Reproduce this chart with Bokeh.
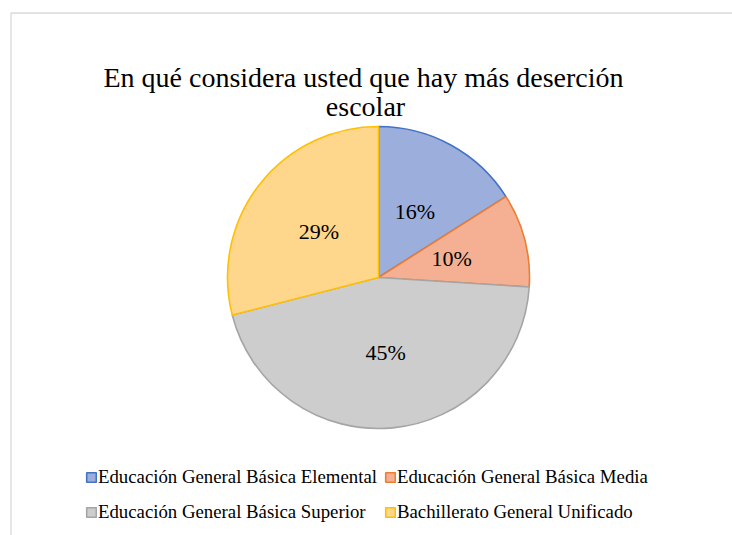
import math
from bokeh.plotting import figure
from bokeh.models import Range1d, Legend, LegendItem, ColumnDataSource
from bokeh.core.properties import value
from bokeh.embed import file_html
from bokeh.resources import INLINE

# ---- data ----
title_lines = ["En qué considera usted que hay más deserción", "escolar"]
categories = [
    "Educación General Básica Elemental",
    "Educación General Básica Media",
    "Educación General Básica Superior",
    "Bachillerato General Unificado",
]
percentages = [16, 10, 45, 29]
fill_colors = ["#9cafdc", "#f5b093", "#cdcdcd", "#fed68c"]
line_colors = ["#4472c4", "#ed7d31", "#a5a5a5", "#ffc000"]

FONT = "Liberation Serif"
W, H = 732, 535


def sy(y):
    # screenshot y (downwards) -> data y (upwards)
    return H - y


p = figure(width=W, height=H, x_range=Range1d(0, W), y_range=Range1d(0, H),
           toolbar_location=None, output_backend="svg", min_border=0,
           x_axis_location=None, y_axis_location=None)
p.grid.visible = False
p.outline_line_color = None
p.background_fill_color = "white"
p.border_fill_color = "white"

# chart-area border
p.quad(left=[10.5], right=[900], top=[sy(12.5)], bottom=[-100],
       fill_alpha=0, line_color="#d9d9d9", line_width=1.3)

# title
p.text(x=[363, 365], y=[sy(77), sy(106)], text=title_lines,
       text_font=value(FONT), text_font_size="28px", text_color="#000000",
       text_align="center", text_baseline="alphabetic")

# pie
cx, cy, R = 378, sy(277), 151
total = sum(percentages)
starts, ends, mids = [], [], []
cum = 0.0
for v in percentages:
    a0 = math.pi / 2 - 2 * math.pi * cum / total
    cum += v
    a1 = math.pi / 2 - 2 * math.pi * cum / total
    starts.append(a0)
    ends.append(a1)
    mids.append((a0 + a1) / 2)

src = ColumnDataSource(dict(x=[cx] * 4, y=[cy] * 4, start=starts, end=ends,
                            fill=fill_colors, line=line_colors, label=categories))
wr = p.wedge(x="x", y="y", radius=R, start_angle="start", end_angle="end",
             direction="clock", fill_color="fill", line_color="line",
             line_width=1.6, source=src)

# data labels
lx = [cx + 0.5 * R * math.cos(m) for m in mids]
ly = [cy + 0.5 * R * math.sin(m) for m in mids]
p.text(x=lx, y=ly, text=[f"{v}%" for v in percentages],
       text_font=value(FONT), text_font_size="22px", text_color="#000000",
       text_align="center", text_baseline="middle")

# legend: two rows of two items, columns aligned
rows = [[0, 1], [2, 3]]
row_centers = [477, 512]
for row, yc in zip(rows, row_centers):
    items = [LegendItem(label=categories[i], renderers=[wr], index=i) for i in row]
    lg = Legend(items=items, orientation="horizontal",
                location=(85, H - yc - 11),
                padding=0, margin=0, spacing=4,
                glyph_width=12, glyph_height=12, label_standoff=1,
                label_width=282, label_height=22,
                label_text_font=FONT, label_text_font_size="18.8px",
                label_text_color="#000000",
                border_line_alpha=0, background_fill_alpha=0)
    p.add_layout(lg, "center")

open("out.html", "w").write(file_html(p, INLINE))
